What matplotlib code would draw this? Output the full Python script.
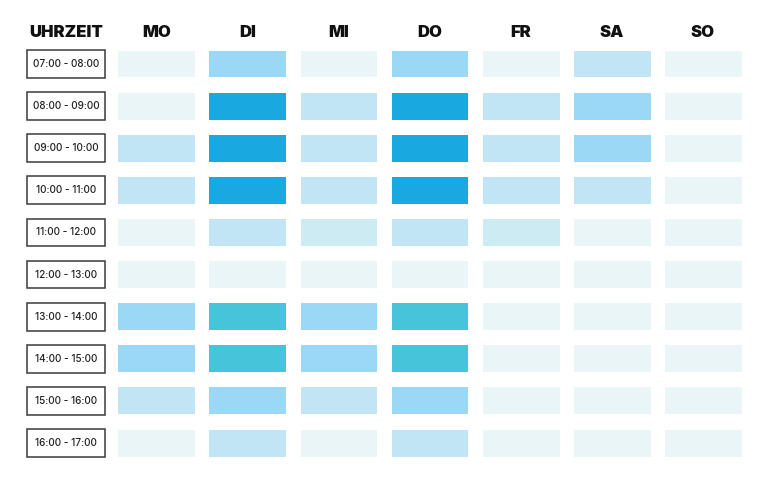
import matplotlib
matplotlib.use('Agg')
import matplotlib.pyplot as plt
from matplotlib.patches import Rectangle

days = ['MO', 'DI', 'MI', 'DO', 'FR', 'SA', 'SO']
slots = ['07:00 - 08:00', '08:00 - 09:00', '09:00 - 10:00', '10:00 - 11:00',
         '11:00 - 12:00', '12:00 - 13:00', '13:00 - 14:00', '14:00 - 15:00',
         '15:00 - 16:00', '16:00 - 17:00']

# occupancy level per slot (row) and day (column)
levels = [
    [0, 2, 0, 2, 0, 1, 0],
    [0, 3, 1, 3, 1, 2, 0],
    [1, 3, 1, 3, 1, 2, 0],
    [1, 3, 1, 3, 1, 1, 0],
    [0, 1, 0.5, 1, 0.5, 0, 0],
    [0, 0, 0, 0, 0, 0, 0],
    [2, 4, 2, 4, 0, 0, 0],
    [2, 4, 2, 4, 0, 0, 0],
    [1, 2, 1, 2, 0, 0, 0],
    [0, 1, 0, 1, 0, 0, 0],
]

palette = {0: '#eaf5f7', 0.5: '#cdebf3', 1: '#c1e5f4', 2: '#9ad8f5',
           3: '#1aa8e0', 4: '#46c4da'}

plt.rcParams['font.family'] = ['Inter', 'DejaVu Sans']

fig = plt.figure(figsize=(7.68, 4.86), dpi=100)
ax = fig.add_axes([0, 0, 1, 1])
ax.set_xlim(-0.725, 7.714)
ax.set_ylim(10.02, -1.52)
ax.axis('off')

cw, ch = 0.846, 0.64
bw, bh = 0.857, 0.66

ax.text(0, -0.74, 'UHRZEIT', ha='center', va='center', fontsize=12,
        fontweight='black', color='#111111')
for i, d in enumerate(days):
    ax.text(i + 1, -0.74, d, ha='center', va='center', fontsize=12,
            fontweight='black', color='#111111')

for j, s in enumerate(slots):
    ax.add_patch(Rectangle((-bw / 2, j - bh / 2), bw, bh, facecolor='white',
                           edgecolor='#3a3a3a', linewidth=1.1))
    ax.text(0, j, s, ha='center', va='center', fontsize=7.2,
            fontweight='medium', color='#222222')
    for i, v in enumerate(levels[j]):
        ax.add_patch(Rectangle((i + 1 - cw / 2, j - ch / 2), cw, ch,
                               facecolor=palette[v], edgecolor='none'))

fig.savefig('out.png', dpi=100)
